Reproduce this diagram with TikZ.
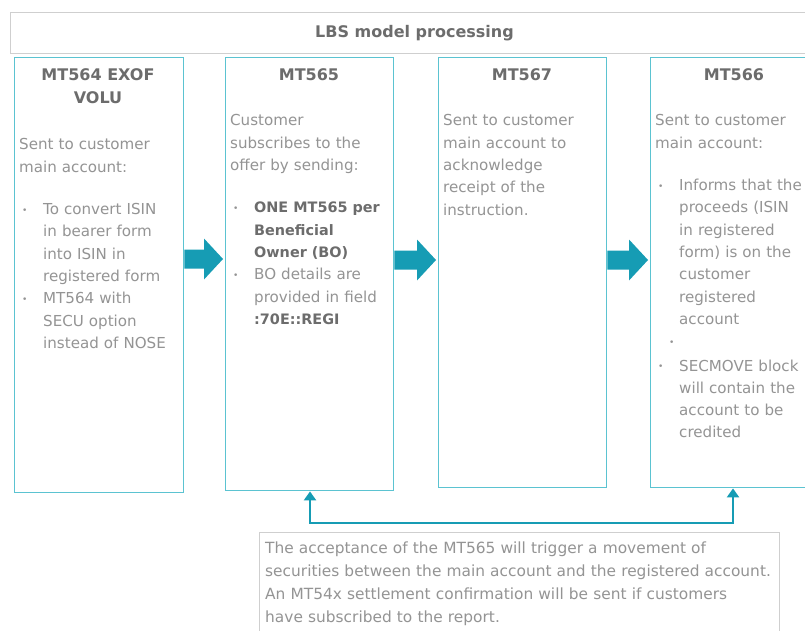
\documentclass[tikz,border=0pt]{standalone}
\usepackage{fontspec}
\setmainfont{DejaVu Sans}
\usetikzlibrary{arrows.meta,calc}

\definecolor{frame}{HTML}{5BC3D1}
\definecolor{flow}{HTML}{169CB4}
\definecolor{bodytext}{HTML}{949494}
\definecolor{headtext}{HTML}{6C6C6C}
\definecolor{rule}{HTML}{CFCFCF}

% bullet helpers for the hand-set lists
\newcommand{\bul}{\hspace*{3pt}\makebox[21pt][l]{\fontsize{9}{9}\selectfont\raisebox{1.5pt}{•}}}
\newcommand{\ind}{\hspace*{24pt}}
\newcommand{\emphline}[1]{{\fontsize{14.4}{22.3}\selectfont\bfseries\color{headtext}#1}}

% thick block arrow between two message boxes at height #3
\newcommand{\flowarrow}[3]{%
  \fill[flow] ($(#1.east |- 0,#3)+(0,-9.5)$) -- ($(#2.west |- 0,#3)+(-21,-9.5)$)
    -- ($(#2.west |- 0,#3)+(-21,-20.5)$) -- ($(#2.west |- 0,#3)+(-2,0)$)
    -- ($(#2.west |- 0,#3)+(-21,20.5)$) -- ($(#2.west |- 0,#3)+(-21,9.5)$)
    -- ($(#1.east |- 0,#3)+(0,9.5)$) -- cycle;}

\tikzset{
  msgbox/.style={draw=frame, line width=1.4pt, anchor=north west, inner sep=0pt,
    minimum width=168pt},
  boxtitle/.style={anchor=base, font=\fontsize{16}{23}\selectfont\bfseries,
    text=headtext, align=center, inner sep=0pt},
  boxbody/.style={anchor=base west, font=\fontsize{15.1}{22.3}\selectfont,
    text=bodytext, align=left, inner sep=0pt, text width=#1},
  boxbody/.default=160pt,
  link/.style={draw=flow, line width=2.6pt},
}

\begin{document}
\begin{tikzpicture}[x=1pt,y=-1pt]
\useasboundingbox (0,0) rectangle (805,631);
\clip (0,0) rectangle (805,631);
\fill[white] (0,0) rectangle (805,631);

% banner
\node[draw=rule, line width=1pt, anchor=north west, minimum width=808pt,
  minimum height=41pt, inner sep=0pt,
  font=\fontsize{16}{20}\selectfont\bfseries, text=headtext] (banner) at (10,12)
  {LBS model processing};

% message boxes
\node[msgbox, minimum width=169pt, minimum height=435pt] (b1) at (14,57) {};
\node[msgbox, minimum height=433pt] (b2) at (225,57) {};
\node[msgbox, minimum height=430pt] (b3) at (438,57) {};
\node[msgbox, minimum height=430pt] (b4) at (650,57) {};

% titles (a two-line title sits on the baseline of its last line)
\node[boxtitle] (t1) at (98,104) {MT564 EXOF\\VOLU};
\node[boxtitle] (t2) at (309,81) {MT565};
\node[boxtitle] (t3) at (522,81) {MT567};
\node[boxtitle] (t4) at (734,81) {MT566};

% bodies
\node[boxbody] (x1) at (19,150) {Sent to customer\\
main account:\\[20pt]
\bul To convert ISIN\\
\ind in bearer form\\
\ind into ISIN in\\
\ind registered form\\
\bul MT564 with\\
\ind SECU option\\
\ind instead of NOSE};

\node[boxbody] (x2) at (230,126) {Customer\\
subscribes to the\\
offer by sending:\\[20pt]
\bul\emphline{ONE MT565 per}\\
\ind\emphline{Beneficial}\\
\ind\emphline{Owner (BO)}\\
\bul BO details are\\
\ind provided in field\\
\ind\emphline{:70E::REGI}};

\node[boxbody] (x3) at (443,126) {Sent to customer\\
main account to\\
acknowledge\\
receipt of the\\
instruction.};

\node[boxbody] (x4) at (655,126) {Sent to customer\\
main account:\\[20pt]
\bul Informs that the\\
\ind proceeds (ISIN\\
\ind in registered\\
\ind form) is on the\\
\ind customer\\
\ind registered\\
\ind account\\
\hspace*{14pt}{\fontsize{9}{9}\selectfont\raisebox{1.5pt}{•}}\\[2pt]
\bul SECMOVE block\\
\ind will contain the\\
\ind account to be\\
\ind credited};

% flow between the boxes
\flowarrow{b1}{b2}{259}
\flowarrow{b2}{b3}{260}
\flowarrow{b3}{b4}{260}

% note and its connector
\node[draw=rule, line width=1pt, anchor=north west, minimum width=520pt,
  minimum height=120pt, inner sep=0pt] (note) at (259,532) {};
\node[anchor=base west, font=\fontsize{15.4}{23}\selectfont, text=bodytext,
  align=left, inner sep=0pt, text width=515pt] (notetext) at (265,553)
  {The acceptance of the MT565 will trigger a movement of\\
  securities between the main account and the registered account.\\
  An MT54x settlement confirmation will be sent if customers\\
  have subscribed to the report.};

\coordinate (j1) at (310,523);
\coordinate (j2) at (733,523);
\draw[link, {Triangle[width=12pt,length=9pt]}-{Triangle[width=12pt,length=9pt]}]
  (b2.south -| j1) -- (j1) -- (j2) -- (b4.south -| j2);
\end{tikzpicture}
\end{document}
